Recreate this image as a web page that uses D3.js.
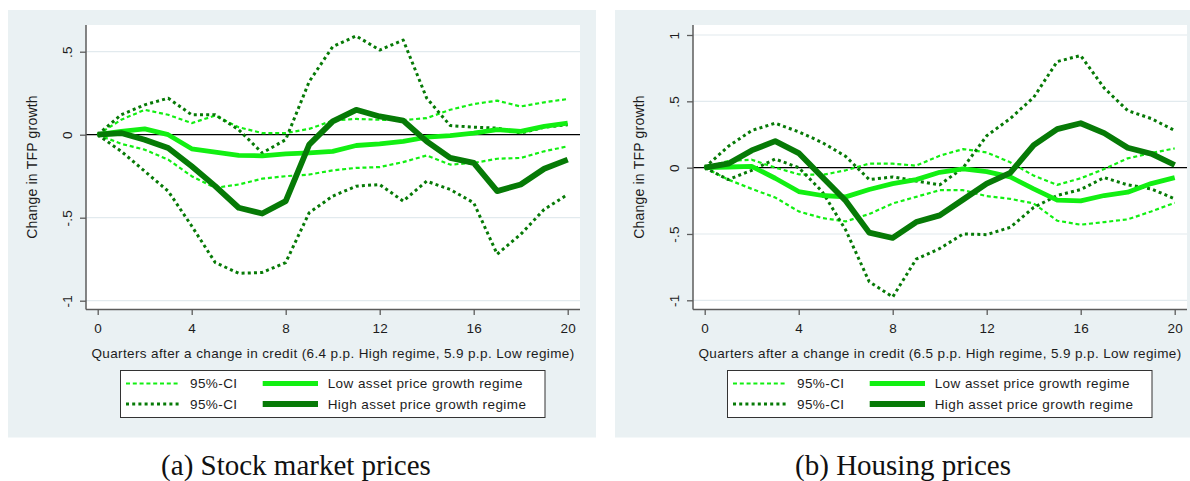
<!DOCTYPE html>
<html>
<head>
<meta charset="utf-8">
<script src="https://cdn.jsdelivr.net/npm/d3@7/dist/d3.min.js"></script>
<style>
  body { margin: 0; background: #ffffff; }
  svg { display: block; }
  text { font-family: "Liberation Sans", Arial, sans-serif; fill: #1c1c1c; }
</style>
</head>
<body>
<svg id="chart" width="1190" height="481"></svg>
<script>
// Quarters after the credit change
const quarters = [0, 1, 2, 3, 4, 5, 6, 7, 8, 9, 10, 11, 12, 13, 14, 15, 16, 17, 18, 19, 20];
const xTickValues = [0, 4, 8, 12, 16, 20];

// (a) Stock market prices: response of TFP growth
const stockLow     = [0, 0.02, 0.035, 0.0, -0.085, -0.105, -0.125, -0.127, -0.115, -0.11, -0.10, -0.065, -0.055, -0.04, -0.015, -0.005, 0.01, 0.03, 0.02, 0.05, 0.07];
const stockLowHi   = [0, 0.09, 0.15, 0.12, 0.07, 0.115, 0.045, 0.01, 0.01, 0.035, 0.085, 0.095, 0.09, 0.088, 0.10, 0.15, 0.185, 0.205, 0.17, 0.195, 0.215];
const stockLowLo   = [0, -0.055, -0.09, -0.15, -0.25, -0.32, -0.30, -0.265, -0.25, -0.24, -0.215, -0.20, -0.195, -0.165, -0.125, -0.18, -0.17, -0.145, -0.14, -0.10, -0.07];
const stockHigh    = [0, 0.01, -0.03, -0.08, -0.19, -0.31, -0.44, -0.475, -0.40, -0.06, 0.08, 0.15, 0.11, 0.085, -0.04, -0.14, -0.17, -0.34, -0.30, -0.205, -0.15];
const stockHighHi  = [0, 0.12, 0.18, 0.22, 0.12, 0.12, 0.03, -0.11, -0.03, 0.32, 0.53, 0.595, 0.51, 0.57, 0.22, 0.055, 0.045, 0.04, 0.01, 0.045, 0.06];
const stockHighLo  = [0, -0.10, -0.22, -0.34, -0.55, -0.77, -0.835, -0.83, -0.77, -0.47, -0.37, -0.31, -0.30, -0.40, -0.28, -0.33, -0.41, -0.72, -0.60, -0.45, -0.36];
const stockYTicks  = [-1, -0.5, 0, 0.5];
const stockYLabels = ["-1", "-.5", "0", ".5"];

// (b) Housing prices: response of TFP growth
const houseLow     = [0, 0.005, 0.01, -0.08, -0.18, -0.21, -0.22, -0.165, -0.12, -0.09, -0.035, -0.01, -0.03, -0.07, -0.16, -0.245, -0.25, -0.21, -0.185, -0.12, -0.075];
const houseLowHi   = [0, 0.05, 0.06, 0.0, -0.05, -0.055, -0.02, 0.03, 0.03, 0.015, 0.09, 0.14, 0.115, 0.04, -0.06, -0.13, -0.08, -0.01, 0.07, 0.11, 0.145];
const houseLowLo   = [0, -0.09, -0.16, -0.225, -0.33, -0.38, -0.405, -0.35, -0.27, -0.22, -0.17, -0.17, -0.215, -0.235, -0.27, -0.40, -0.43, -0.41, -0.39, -0.33, -0.265];
const houseHigh    = [0, 0.03, 0.13, 0.20, 0.11, -0.07, -0.25, -0.49, -0.53, -0.41, -0.36, -0.24, -0.12, -0.04, 0.17, 0.29, 0.335, 0.26, 0.15, 0.105, 0.02];
const houseHighHi  = [0, 0.16, 0.28, 0.335, 0.27, 0.19, 0.085, -0.09, -0.07, -0.10, -0.13, 0.0, 0.24, 0.37, 0.53, 0.80, 0.845, 0.60, 0.43, 0.37, 0.28];
const houseHighLo  = [0, -0.09, -0.02, 0.065, 0.0, -0.18, -0.47, -0.86, -0.975, -0.69, -0.61, -0.50, -0.505, -0.45, -0.30, -0.21, -0.165, -0.075, -0.13, -0.16, -0.235];
const houseYTicks  = [-1, -0.5, 0, 0.5, 1];
const houseYLabels = ["-1", "-.5", "0", ".5", "1"];

const yTitle = "Change in TFP growth";
const legendLabels = ["95%-CI", "Low asset price growth regime", "95%-CI", "High asset price growth regime"];

const LIME = "#12ef12";
const GREEN = "#067a06";
const BG = "#eaf1f3";
const GRID = "#e2eaee";
const AXIS = "#5c5c5c";

const panels = [
  {
    dx: 0,
    yDomain: [-1, 0.5], yPix: [300.7, 51.7],
    yTicks: stockYTicks, yLabels: stockYLabels,
    low: stockLow, lowHi: stockLowHi, lowLo: stockLowLo,
    high: stockHigh, highHi: stockHighHi, highLo: stockHighLo,
    xTitle: "Quarters after a change in credit (6.4 p.p. High regime, 5.9 p.p. Low regime)",
    caption: "(a) Stock market prices"
  },
  {
    dx: 607,
    yDomain: [-1, 1], yPix: [300.3, 35],
    yTicks: houseYTicks, yLabels: houseYLabels,
    low: houseLow, lowHi: houseLowHi, lowLo: houseLowLo,
    high: houseHigh, highHi: houseHighHi, highLo: houseHighLo,
    xTitle: "Quarters after a change in credit (6.5 p.p. High regime, 5.9 p.p. Low regime)",
    caption: "(b) Housing prices"
  }
];

const svg = d3.select("#chart");

const styles = {
  ciLow:  { stroke: LIME,  width: 2.2, dash: "4 2.8" },
  ciHigh: { stroke: GREEN, width: 3.0, dash: "3 3.2" },
  low:    { stroke: LIME,  width: 4.8, dash: null },
  high:   { stroke: GREEN, width: 5.8, dash: null }
};

panels.forEach(p => {
  const g = svg.append("g").attr("transform", `translate(${p.dx},0)`);

  // panel background
  g.append("rect").attr("x", 8).attr("y", 10).attr("width", 588).attr("height", 427.5).attr("fill", BG);

  const plotL = 86, plotR = 580, plotT = 25, plotB = 309.5;
  g.append("rect").attr("x", plotL).attr("y", plotT).attr("width", plotR - plotL).attr("height", plotB - plotT).attr("fill", "#ffffff");

  const x = d3.scaleLinear().domain([0, 20]).range([97.7, 567.7]);
  const y = d3.scaleLinear().domain(p.yDomain).range(p.yPix);

  // horizontal grid
  g.selectAll("line.grid").data(p.yTicks.filter(v => v !== 0)).join("line")
    .attr("class", "grid")
    .attr("x1", plotL).attr("x2", plotR)
    .attr("y1", d => y(d)).attr("y2", d => y(d))
    .attr("stroke", GRID).attr("stroke-width", 1.2);

  // reference line at zero
  g.append("line").attr("x1", plotL).attr("x2", plotR)
    .attr("y1", y(0)).attr("y2", y(0))
    .attr("stroke", "#000").attr("stroke-width", 1.3);

  // y axis
  const yAxis = d3.axisLeft(y).tickValues(p.yTicks).tickSize(6).tickFormat((d, i) => p.yLabels[i]);
  const ya = g.append("g").attr("transform", `translate(${plotL},0)`).call(yAxis);
  ya.select(".domain").remove();
  ya.selectAll(".tick line").attr("stroke", AXIS).attr("stroke-width", 1.3);
  ya.selectAll(".tick text")
    .attr("x", null).attr("dy", null)
    .attr("transform", "translate(-14,0) rotate(-90)")
    .attr("text-anchor", "middle")
    .style("font-size", "13.5px").style("letter-spacing", "0.3px").style("fill", "#1c1c1c");
  g.append("line").attr("x1", plotL).attr("x2", plotL).attr("y1", plotT).attr("y2", plotB)
    .attr("stroke", AXIS).attr("stroke-width", 1.5);

  // x axis
  const xAxis = d3.axisBottom(x).tickValues(xTickValues).tickSize(5.5).tickFormat(d3.format("d"));
  const xa = g.append("g").attr("transform", `translate(0,${plotB})`).call(xAxis);
  xa.select(".domain").remove();
  xa.selectAll(".tick line").attr("stroke", AXIS).attr("stroke-width", 1.3);
  xa.selectAll(".tick text").attr("y", 23.5).attr("dy", null)
    .style("font-size", "13.5px").style("letter-spacing", "0.3px").style("fill", "#1c1c1c");
  g.append("line").attr("x1", plotL).attr("x2", plotR).attr("y1", plotB).attr("y2", plotB)
    .attr("stroke", AXIS).attr("stroke-width", 1.5);

  // titles
  g.append("text").attr("transform", `translate(37.3,167) rotate(-90)`)
    .attr("text-anchor", "middle").style("font-size", "14px").style("letter-spacing", "0.2px").text(yTitle);
  g.append("text").attr("x", 333).attr("y", 358)
    .attr("text-anchor", "middle").style("font-size", "13.5px").style("letter-spacing", "0.38px").text(p.xTitle);

  // series
  const line = d3.line().x((d, i) => x(quarters[i])).y(d => y(d));
  const drawSeries = (vals, st) => {
    g.append("path").datum(vals)
      .attr("d", line)
      .attr("fill", "none")
      .attr("stroke", st.stroke)
      .attr("stroke-width", st.width)
      .attr("stroke-linejoin", "round")
      .attr("stroke-dasharray", st.dash);
  };
  drawSeries(p.lowHi, styles.ciLow);
  drawSeries(p.lowLo, styles.ciLow);
  drawSeries(p.highHi, styles.ciHigh);
  drawSeries(p.highLo, styles.ciHigh);
  drawSeries(p.low, styles.low);
  drawSeries(p.high, styles.high);

  // legend
  const lg = g.append("g");
  lg.append("rect").attr("x", 120.5).attr("y", 370.5).attr("width", 424.5).attr("height", 47)
    .attr("fill", "#fff").attr("stroke", "#333").attr("stroke-width", 1);
  const items = [
    { st: styles.ciLow,  col: 0, row: 0, label: legendLabels[0] },
    { st: styles.low,    col: 1, row: 0, label: legendLabels[1] },
    { st: styles.ciHigh, col: 0, row: 1, label: legendLabels[2] },
    { st: styles.high,   col: 1, row: 1, label: legendLabels[3] }
  ];
  const colX = [[126, 180, 190], [262.7, 318, 327.7]];
  const rowY = [383.5, 404];
  items.forEach(it => {
    const [a, b, t] = colX[it.col];
    const yy = rowY[it.row];
    lg.append("line").attr("x1", a).attr("x2", b).attr("y1", yy).attr("y2", yy)
      .attr("stroke", it.st.stroke).attr("stroke-width", it.st.width)
      .attr("stroke-dasharray", it.st.dash);
    lg.append("text").attr("x", t).attr("y", yy + 4.8)
      .style("font-size", "13.5px").style("letter-spacing", "0.42px").text(it.label);
  });

  // caption
  g.append("text").attr("x", 296).attr("y", 475)
    .attr("text-anchor", "middle")
    .style("font-family", "'Liberation Serif', 'DejaVu Serif', serif")
    .style("font-size", "29px").style("fill", "#111")
    .text(p.caption);
});
</script>
</body>
</html>
